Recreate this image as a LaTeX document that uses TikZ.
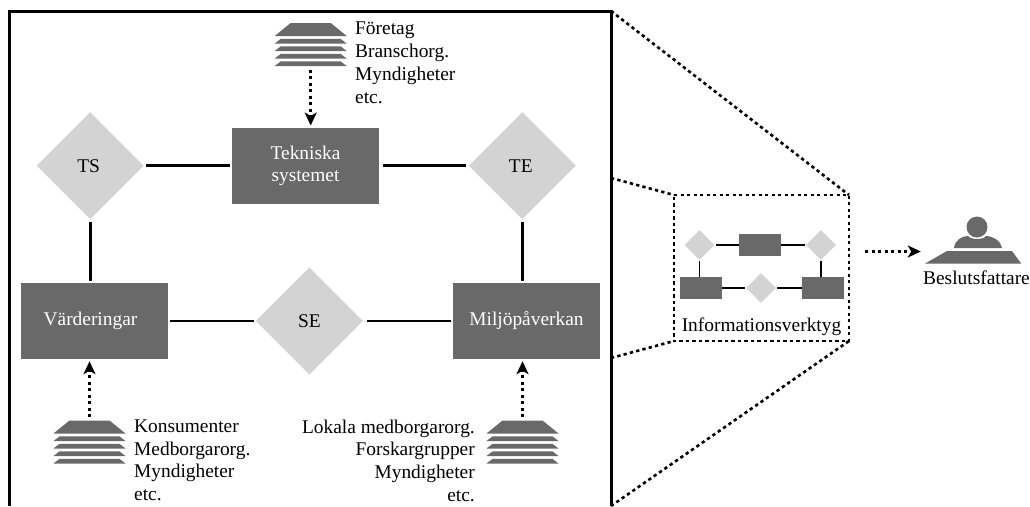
\documentclass[tikz,border=0pt]{standalone}
\usepackage{fontspec}
\setmainfont{Liberation Serif}
\usetikzlibrary{shapes.geometric,arrows.meta}
\definecolor{dk}{HTML}{696969}
\definecolor{lt}{HTML}{D3D3D3}
\tikzset{
  darkbox/.style={fill=dk,text=white,inner sep=0pt,align=center,font=\fontsize{19.4}{21.7}\selectfont},
  dia/.style={diamond,fill=lt,inner sep=0pt,aspect=1,font=\fontsize{19.4}{21}\selectfont},
  conn/.style={line width=2.8pt},
  mconn/.style={line width=1.3pt},
  dots/.style={line width=2.6pt,dash pattern=on 3.3pt off 3.2pt},
  dotarrow/.style={dots,-{Stealth[length=13pt,width=12pt,inset=3.5pt,sep=0pt]}},
  lab/.style={inner sep=0pt,align=left,font=\fontsize{19.4}{22.7}\selectfont},
  anchorbox/.style={inner sep=0pt,minimum width=72pt,minimum height=43pt},
  flat/.style={fill=dk},
  mbox/.style={fill=dk,inner sep=0pt,minimum width=42pt,minimum height=22pt},
  mdia/.style={diamond,fill=lt,inner sep=0pt,aspect=1,minimum size=30pt},
}
\newcommand{\orgstack}[2]{%
  \fill[flat] (#1-36,#2) -- (#1-20,#2-13) -- (#1+20,#2-13) -- (#1+36,#2) -- cycle;
  \foreach \dy in {7.5,15,22.5,30}{
    \fill[flat] (#1-36,#2+\dy) -- (#1-30,#2+\dy-4.6) -- (#1+30,#2+\dy-4.6) -- (#1+36,#2+\dy) -- cycle;
  }%
}
\begin{document}
\begin{tikzpicture}[x=1pt,y=-1pt]
\useasboundingbox (0,0) rectangle (1030,506);
% frame
\coordinate (fbl) at (9.5,506);
\coordinate (ftl) at (9.5,11);
\coordinate (ftr) at (611,11);
\coordinate (fbr) at (611,506);
\coordinate (fm1) at (611,178);
\coordinate (fm2) at (611,358);
\draw[line width=3pt] (fbl) -- (ftl) -- (ftr) -- (fbr);
% main nodes
\node[darkbox,minimum width=147pt,minimum height=76pt] (tek) at (305.5,165.7) {\raisebox{-1pt}{Tekniska}\\\raisebox{-1pt}{systemet}};
\node[darkbox,minimum width=147pt,minimum height=76pt] (var) at (94.5,321) {\hspace*{-8pt}Värderingar};
\node[darkbox,minimum width=147pt,minimum height=76pt] (mil) at (526.5,321) {Miljöpåverkan};
\node[dia,minimum size=107pt] (ts) at (90.2,165.7) {\hspace*{-3pt}\raisebox{-2pt}{TS}};
\node[dia,minimum size=107pt] (te) at (522.3,165.7) {\hspace*{-3pt}\raisebox{-2pt}{TE}};
\node[dia,minimum size=107pt] (se) at (309.4,321) {\raisebox{-1pt}{SE}};
\draw[conn,shorten <=2.5pt,shorten >=2pt] (ts.east) -- (tek.west);
\draw[conn,shorten <=3.5pt,shorten >=3pt] (tek.east) -- (te.west);
\draw[conn,shorten <=3pt,shorten >=2pt] (ts.south) -- (ts.south |- var.north);
\draw[conn,shorten <=3pt,shorten >=2pt] (te.south) -- (te.south |- mil.north);
\draw[conn,shorten <=2pt,shorten >=2pt] (var.east) -- (se.west);
\draw[conn,shorten <=4pt,shorten >=2pt] (se.east) -- (mil.west);
% stacks
\orgstack{310.7}{36}
\orgstack{89.5}{433.5}
\orgstack{522.5}{433.5}
\node[anchorbox] (stT) at (310.7,44.5) {};
\node[anchorbox] (stL) at (89.5,442) {};
\node[anchorbox] (stR) at (522.5,442) {};
\draw[dotarrow,shorten <=3.3pt,shorten >=2pt] (stT.south) -- (stT.south |- tek.north);
\draw[dotarrow,shorten <=3pt,shorten >=2pt] (stL.north) -- (stL.north |- var.south);
\draw[dotarrow,shorten <=3pt,shorten >=2pt] (stR.north) -- (stR.north |- mil.south);
% labels
\node[lab,anchor=north west] (lt) at (355,22) {Företag\\Branschorg.\\Myndigheter\\etc.};
\node[lab,anchor=north west] (ll) at (134,419.5) {Konsumenter\\Medborgarorg.\\Myndigheter\\etc.};
\node[lab,anchor=north east,align=right] (lr) at (475,419.5) {Lokala medborgarorg.\\Forskargrupper\\Myndigheter\\etc.};
% magnified box
\coordinate (a) at (674,195);
\coordinate (b) at (849,195);
\coordinate (c) at (849,341);
\coordinate (d) at (674,341);
\draw[dots] (a) -- (b) -- (c) -- (d) -- cycle;
\draw[dots] (fm1) -- (a);
\draw[dots] (fm2) -- (d);
\draw[dots] (ftr) -- (b);
\draw[dots] (fbr) -- (c);
% mini diagram
\node[mbox] (m1) at (760,245) {};
\node[mbox] (m2) at (701,288) {};
\node[mbox] (m3) at (823,288) {};
\node[mdia] (d1) at (699.5,245) {};
\node[mdia] (d2) at (821,245) {};
\node[mdia] (d3) at (761,288) {};
\draw[mconn,shorten <=1pt] (d1.east) -- (m1.west);
\draw[mconn,shorten >=1pt] (m1.east) -- (d2.west);
\draw[mconn,shorten <=1pt] (d1.south) -- (d1.south |- m2.north);
\draw[mconn,shorten <=1pt] (d2.south) -- (d2.south |- m3.north);
\draw[mconn,shorten >=1pt] (m2.east) -- (d3.west);
\draw[mconn,shorten <=1pt] (d3.east) -- (m3.west);
\node[inner sep=0pt,font=\fontsize{19.4}{21}\selectfont] (info) at (761.5,327) {Informationsverktyg};
% decision maker
\fill[dk] (954,248) .. controls (955,240) and (962,236) .. (968,236) .. controls (971,240) and (983,240) .. (986,236) .. controls (993,236) and (1001,241) .. (1002,248) -- cycle;
\fill[dk] (977,227) circle (10.5);
\node[inner sep=0pt,minimum width=96pt,minimum height=12.5pt] (desk) at (973,257.25) {};
\fill[dk] (desk.south west) -- (947,251) -- (1012,251) -- (desk.south east) -- cycle;
\coordinate (ar1) at (865,251.5);
\draw[dotarrow,shorten >=4pt] (ar1) -- (ar1 -| desk.west);
\node[inner sep=0pt,font=\fontsize{19.4}{21}\selectfont] (bes) at (976.5,278) {Beslutsfattare};
\end{tikzpicture}
\end{document}
